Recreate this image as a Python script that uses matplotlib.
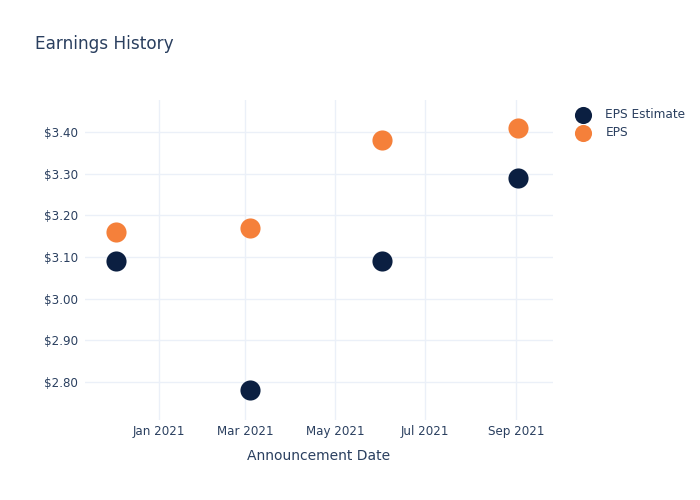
import matplotlib
matplotlib.use('Agg')
import matplotlib.pyplot as plt
import matplotlib.dates as mdates
import pandas as pd

# data
dates = pd.to_datetime(['2020-12-03', '2021-03-04', '2021-06-02', '2021-09-02'])
eps_estimate = [3.09, 2.78, 3.09, 3.29]
eps_actual = [3.16, 3.17, 3.38, 3.41]

text_color = '#2a3f5f'
grid_color = '#ebf0f8'

fig = plt.figure(figsize=(7, 5), dpi=100)
ax = fig.add_axes([85 / 700, 80 / 500, 468 / 700, 320 / 500])

ax.scatter(dates, eps_estimate, s=210, color='#0b1f41', label='EPS Estimate', zorder=3, linewidths=0)
ax.scatter(dates, eps_actual, s=210, color='#f5803a', label='EPS', zorder=3, linewidths=0)

ax.set_xlim(pd.Timestamp('2020-11-12'), pd.Timestamp('2021-09-26'))
ax.set_ylim(2.709, 3.477)
ax.set_yticks([2.8, 2.9, 3.0, 3.1, 3.2, 3.3, 3.4])
ax.yaxis.set_major_formatter(plt.FuncFormatter(lambda v, p: '${:.2f}'.format(v)))
ax.xaxis.set_major_locator(mdates.MonthLocator(bymonth=[1, 3, 5, 7, 9]))
ax.xaxis.set_major_formatter(mdates.DateFormatter('%b %Y'))

for s in ax.spines.values():
    s.set_visible(False)
ax.grid(True, color=grid_color, linewidth=1)
ax.set_axisbelow(True)
ax.tick_params(length=0, colors=text_color, labelsize=8.6)
ax.tick_params(axis='x', pad=3.5)
ax.tick_params(axis='y', pad=5)

ax.set_xlabel('Announcement Date', color=text_color, fontsize=10, labelpad=8)
fig.text(35 / 700, 1 - 44 / 500, 'Earnings History', color=text_color, fontsize=12.2, va='center')

fig.legend(loc='upper left', bbox_to_anchor=(566 / 700, 1 - 103 / 500), frameon=False,
           fontsize=8.7, labelcolor=text_color, handletextpad=0.85, labelspacing=0.45,
           borderaxespad=0, markerscale=0.85)

plt.savefig('out.png', dpi=100)
